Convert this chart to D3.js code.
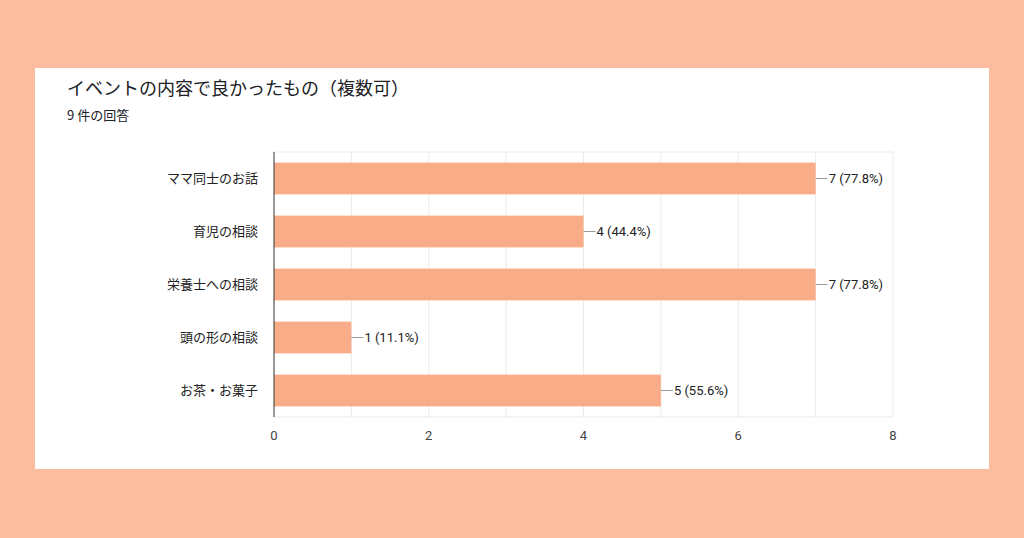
<!DOCTYPE html>
<html><head><meta charset="utf-8">
<script src="https://cdn.jsdelivr.net/npm/d3@7"></script>
<style>body{margin:0;background:#fcbc9f;font-family:Roboto,"Noto Sans CJK JP",sans-serif}</style>
</head><body>
<svg id="c" width="1024" height="538"></svg>
<script>
const categories = ["ママ同士のお話", "育児の相談", "栄養士への相談", "頭の形の相談", "お茶・お菓子"];
const counts = [7, 4, 7, 1, 5];
const labels = ["7 (77.8%)", "4 (44.4%)", "7 (77.8%)", "1 (11.1%)", "5 (55.6%)"];
const ticks = [0, 2, 4, 6, 8];

const svg = d3.select("#c");
svg.append("rect").attr("x", 35).attr("y", 68).attr("width", 954).attr("height", 401).attr("fill", "#fff");
svg.append("text").attr("x", 67).attr("y", 95).attr("font-size", 18).attr("fill", "#202124")
  .attr("font-family", "'Noto Sans CJK JP'").text("イベントの内容で良かったもの（複数可）");
svg.append("text").attr("x", 67).attr("y", 120).attr("font-size", 13).attr("fill", "#202124")
  .attr("font-family", "'Noto Sans CJK JP'").text("9 件の回答");

const x = d3.scaleLinear().domain([0, 8]).range([274, 893]);
const y = d3.scaleBand().domain(categories).range([152, 417]).paddingInner(0.4).paddingOuter(0.2);

const g = svg.append("g");
g.selectAll(".grid").data(d3.range(1, 9)).enter().append("line")
  .attr("x1", d => x(d)).attr("x2", d => x(d)).attr("y1", 152).attr("y2", 417)
  .attr("stroke", "#ebebeb");
g.append("line").attr("x1", x(0)).attr("x2", x(8)).attr("y1", 152).attr("y2", 152).attr("stroke", "#ebebeb");
g.append("line").attr("x1", x(0)).attr("x2", x(8)).attr("y1", 417).attr("y2", 417).attr("stroke", "#ebebeb");

g.selectAll(".bar").data(counts).enter().append("rect")
  .attr("x", x(0)).attr("y", (d, i) => y(categories[i]))
  .attr("width", d => x(d) - x(0)).attr("height", y.bandwidth())
  .attr("fill", "#f9ac88");

g.append("line").attr("x1", x(0)).attr("x2", x(0)).attr("y1", 152).attr("y2", 417).attr("stroke", "#333");

g.selectAll(".lead").data(counts).enter().append("line")
  .attr("x1", d => x(d)).attr("x2", d => x(d) + 12)
  .attr("y1", (d, i) => y(categories[i]) + y.bandwidth() / 2)
  .attr("y2", (d, i) => y(categories[i]) + y.bandwidth() / 2)
  .attr("stroke", "#999");
g.selectAll(".lbl").data(counts).enter().append("text")
  .attr("x", d => x(d) + 13).attr("y", (d, i) => y(categories[i]) + y.bandwidth() / 2)
  .attr("dy", "0.35em").attr("font-size", 13).attr("fill", "#222").text((d, i) => labels[i]);

g.selectAll(".cat").data(categories).enter().append("text")
  .attr("x", 258).attr("y", d => y(d) + y.bandwidth() / 2).attr("dy", "0.35em")
  .attr("text-anchor", "end").attr("font-size", 13).attr("fill", "#222")
  .attr("font-family", "'Noto Sans CJK JP'").text(d => d);

g.selectAll(".tick").data(ticks).enter().append("text")
  .attr("x", d => x(d)).attr("y", 440).attr("text-anchor", "middle")
  .attr("font-size", 13).attr("fill", "#444").text(d => d);
</script>
</body></html>
